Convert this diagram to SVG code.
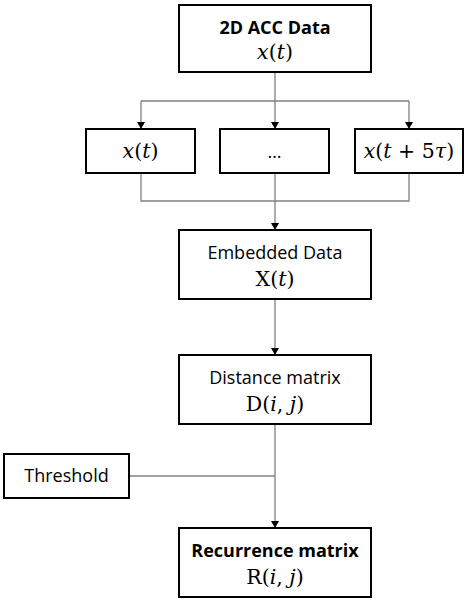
<svg xmlns="http://www.w3.org/2000/svg" width="468" height="602" viewBox="0 0 468 602">
<style>
.box{fill:#fff;stroke:#000;stroke-width:2}
.ln{fill:none;stroke:#808080;stroke-width:1.3}
.t{font-family:"Open Sans","Liberation Sans",sans-serif;font-size:18px;fill:#000;text-anchor:middle}
.b{font-weight:bold}
.m{font-family:"DejaVu Serif","Liberation Serif",serif;font-size:20.5px;fill:#000;text-anchor:middle}
.i{font-style:italic}
</style>
<defs>
<marker id="ah" markerWidth="8" markerHeight="8" refX="7" refY="4" orient="auto" markerUnits="userSpaceOnUse">
<path d="M0,0 L7,4 L0,8 Z" fill="#000"/>
</marker>
</defs>
<g id="connectors">
<path class="ln" d="M275,72 V129" marker-end="url(#ah)"/>
<path class="ln" d="M141,101 H409"/>
<path class="ln" d="M141,101 V129" marker-end="url(#ah)"/>
<path class="ln" d="M409,101 V129" marker-end="url(#ah)"/>
<path class="ln" d="M141,173 V201 H409 V173"/>
<path class="ln" d="M275,173 V230" marker-end="url(#ah)"/>
<path class="ln" d="M275,299 V355" marker-end="url(#ah)"/>
<path class="ln" d="M275,424 V528" marker-end="url(#ah)"/>
<path class="ln" d="M129,476 H275"/>
</g>
<g id="acc">
<rect class="box" x="179" y="5" width="192" height="67"/>
<text class="t b" x="275" y="34">2D ACC Data</text>
<text class="m" x="275" y="59"><tspan class="i">x</tspan>(<tspan class="i">t</tspan>)</text>
</g>
<g id="xt">
<rect class="box" x="86" y="129" width="109" height="44"/>
<text class="m" x="140.5" y="158"><tspan class="i">x</tspan>(<tspan class="i">t</tspan>)</text>
</g>
<g id="dots">
<rect class="box" x="220" y="129" width="109" height="44"/>
<text class="t" x="274.5" y="158">…</text>
</g>
<g id="xt5">
<rect class="box" x="355" y="129" width="108" height="44"/>
<text class="m" x="409" y="158"><tspan class="i">x</tspan>(<tspan class="i">t</tspan> + 5<tspan class="i">τ</tspan>)</text>
</g>
<g id="embedded">
<rect class="box" x="179" y="230" width="192" height="69"/>
<text class="t" x="275" y="259">Embedded Data</text>
<text class="m" x="275" y="286">X(<tspan class="i">t</tspan>)</text>
</g>
<g id="distance">
<rect class="box" x="179" y="355" width="192" height="69"/>
<text class="t" x="275" y="384">Distance matrix</text>
<text class="m" x="275" y="411">D(<tspan class="i">i</tspan>, <tspan class="i">j</tspan>)</text>
</g>
<g id="threshold">
<rect class="box" x="4" y="454" width="125" height="44"/>
<text class="t" x="66.5" y="482">Threshold</text>
</g>
<g id="recurrence">
<rect class="box" x="179" y="528" width="192" height="69"/>
<text class="t b" x="275" y="557">Recurrence matrix</text>
<text class="m" x="275" y="584">R(<tspan class="i">i</tspan>, <tspan class="i">j</tspan>)</text>
</g>
</svg>
